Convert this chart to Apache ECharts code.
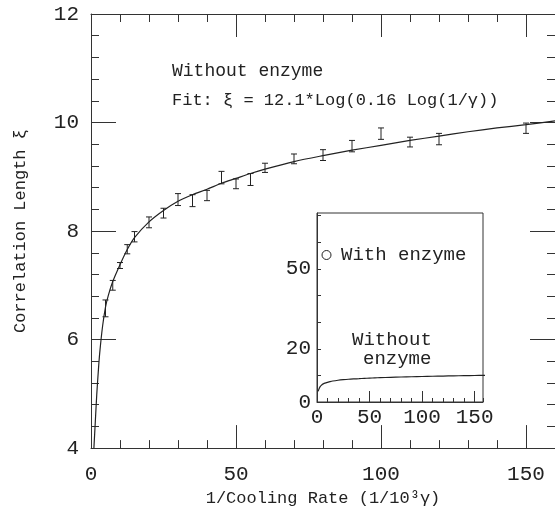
<!DOCTYPE html>
<html><head><meta charset="utf-8">
<script src="https://cdn.jsdelivr.net/npm/echarts@6/dist/echarts.min.js"></script>
<style>html,body{margin:0;padding:0;background:#fff}#c{width:555px;height:512px}</style>
</head><body><div id="c"></div>
<script>
// Error-bar data (Without enzyme)
const errX    = [5, 7.5, 10, 12.5, 15, 20, 25, 30, 35, 40, 45, 50, 55, 60, 70, 80, 90, 100, 110, 120, 150];
const errLow  = [6.42, 6.91, 7.31, 7.58, 7.80, 8.06, 8.24, 8.47, 8.45, 8.56, 8.87, 8.78, 8.84, 9.08, 9.24, 9.30, 9.46, 9.69, 9.55, 9.59, 9.80];
const errHigh = [6.73, 7.09, 7.42, 7.75, 7.99, 8.26, 8.42, 8.69, 8.67, 8.75, 9.10, 8.96, 9.06, 9.25, 9.42, 9.50, 9.67, 9.90, 9.73, 9.80, 9.99];
// Fit curve
const curveX = [1.0, 1.5, 2.0, 2.5, 3.0, 4.0, 5.0, 6.0, 7.5, 10, 12.5, 15, 20, 25, 30, 35, 40, 45, 50, 55, 60, 70, 80, 90, 100, 110, 120, 130, 140, 150, 160];
const curveY = [4.0, 4.5, 5.0, 5.4, 5.75, 6.25, 6.6, 6.82, 7.07, 7.38, 7.66, 7.88, 8.17, 8.38, 8.55, 8.67, 8.77, 8.88, 8.97, 9.06, 9.14, 9.28, 9.39, 9.49, 9.58, 9.67, 9.75, 9.83, 9.90, 9.96, 10.03];
// Tick labels
const insetYLabels = [0, 20, 50];

const FONT = 'Liberation Mono';
const INK = '#222';
const LINE = '#333';

const curveData = curveX.map((x, i) => [x, curveY[i]]);
const errData = errX.map((x, i) => [x, errLow[i], errHigh[i]]);

function xAx(opts) {
  return Object.assign({
    type: 'value', gridIndex: 0, min: 0, max: 160,
    axisLine: {show: true, onZero: false, lineStyle: {color: LINE, width: 1}},
    axisTick: {show: true, inside: true, length: 8, lineStyle: {color: LINE, width: 1}},
    axisLabel: {show: false},
    splitLine: {show: false}
  }, opts);
}
function yAx(opts) {
  return Object.assign({
    type: 'value', gridIndex: 0, min: 4, max: 12, interval: 2,
    axisLine: {show: true, onZero: false, lineStyle: {color: LINE, width: 1}},
    axisTick: {show: true, inside: true, length: 25, lineStyle: {color: LINE, width: 1}},
    minorTick: {show: true, splitNumber: 5, length: 8, lineStyle: {color: LINE, width: 1}},
    axisLabel: {show: false},
    splitLine: {show: false}
  }, opts);
}

const chart = echarts.init(document.getElementById('c'), null, {renderer: 'canvas'});
chart.setOption({
  animation: false,
  backgroundColor: '#fff',
  grid: [
    {left: 91, top: 14, width: 466, height: 436, show: false},
    {left: 317, top: 213, width: 166, height: 189, show: true, backgroundColor: '#fff', borderColor: LINE, borderWidth: 1}
  ],
  xAxis: [
    xAx({position: 'bottom', interval: 50,
      axisTick: {show: true, inside: true, length: 23, lineStyle: {color: LINE, width: 1}},
      axisLabel: {show: true, showMaxLabel: false, margin: 16, fontFamily: FONT, fontSize: 21, color: INK},
      name: '1/Cooling Rate (1/10³γ)', nameLocation: 'middle', nameGap: 40,
      nameTextStyle: {fontFamily: FONT, fontSize: 17, color: INK}}),
    xAx({position: 'bottom', interval: 10, axisLine: {show: false}}),
    xAx({position: 'top', interval: 50,
      axisTick: {show: true, inside: true, length: 23, lineStyle: {color: LINE, width: 1}}}),
    xAx({position: 'top', interval: 10, axisLine: {show: false}}),
    // inset
    {type: 'value', gridIndex: 1, position: 'bottom', min: 0, max: 158, interval: 50,
      axisLine: {show: true, onZero: false, lineStyle: {color: LINE, width: 1}},
      axisTick: {show: true, inside: true, length: 11, lineStyle: {color: LINE, width: 1}},
      axisLabel: {show: true, showMaxLabel: false, margin: 5, fontFamily: FONT, fontSize: 21, color: INK},
      splitLine: {show: false}},
    {type: 'value', gridIndex: 1, position: 'bottom', min: 0, max: 158, interval: 10,
      axisLine: {show: false},
      axisTick: {show: true, inside: true, length: 4, lineStyle: {color: LINE, width: 1}},
      axisLabel: {show: false}, splitLine: {show: false}}
  ],
  yAxis: [
    yAx({position: 'left',
      axisLabel: {show: true, margin: 12, fontFamily: FONT, fontSize: 21, color: INK},
      name: 'Correlation Length ξ', nameLocation: 'middle', nameGap: 62, nameRotate: 90,
      nameTextStyle: {fontFamily: FONT, fontSize: 17, color: INK}}),
    yAx({position: 'right'}),
    {type: 'value', gridIndex: 1, position: 'left', min: 0, max: 71, interval: 10,
      axisLine: {show: true, onZero: false, lineStyle: {color: LINE, width: 1}},
      axisTick: {show: true, inside: true, length: 4, lineStyle: {color: LINE, width: 1}},
      axisLabel: {show: true, showMaxLabel: false, margin: 6, fontFamily: FONT, fontSize: 21, color: INK,
        formatter: v => insetYLabels.indexOf(v) >= 0 ? String(v) : ''},
      splitLine: {show: false}}
  ],
  series: [
    {type: 'line', name: 'Fit', xAxisIndex: 0, yAxisIndex: 0, data: curveData, smooth: 0.3,
      showSymbol: false, symbol: 'none', clip: true, lineStyle: {color: INK, width: 1.2}},
    {type: 'custom', name: 'Without enzyme', xAxisIndex: 0, yAxisIndex: 0, data: errData,
      encode: {x: 0, y: [1, 2]},
      renderItem: function (params, api) {
        const x = api.value(0), lo = api.value(1), hi = api.value(2);
        const p1 = api.coord([x, lo]), p2 = api.coord([x, hi]);
        const w = 3;
        const st = {stroke: INK, lineWidth: 1};
        return {type: 'group', children: [
          {type: 'line', shape: {x1: p1[0], y1: p1[1], x2: p2[0], y2: p2[1]}, style: st},
          {type: 'line', shape: {x1: p1[0] - w, y1: p1[1], x2: p1[0] + w, y2: p1[1]}, style: st},
          {type: 'line', shape: {x1: p2[0] - w, y1: p2[1], x2: p2[0] + w, y2: p2[1]}, style: st}
        ]};
      }},
    {type: 'line', name: 'Inset fit', xAxisIndex: 4, yAxisIndex: 2, data: curveData, smooth: 0.3,
      showSymbol: false, symbol: 'none', clip: true, lineStyle: {color: INK, width: 1.2}}
  ],
  graphic: [
    {type: 'text', left: 172, top: 62, style: {text: 'Without enzyme', fontFamily: FONT, fontSize: 18, fill: INK}},
    {type: 'text', left: 172, top: 92, style: {text: 'Fit: ξ = 12.1*Log(0.16 Log(1/γ))', fontFamily: FONT, fontSize: 17, fill: INK}},
    {type: 'circle', shape: {cx: 326.5, cy: 255, r: 4.5}, style: {fill: 'none', stroke: INK, lineWidth: 1}, z: 100},
    {type: 'text', left: 341, top: 245, z: 100, style: {text: 'With enzyme', fontFamily: FONT, fontSize: 19, fill: INK}},
    {type: 'text', left: 352, top: 330, z: 100, style: {text: 'Without', fontFamily: FONT, fontSize: 19, fill: INK}},
    {type: 'text', left: 363, top: 349, z: 100, style: {text: 'enzyme', fontFamily: FONT, fontSize: 19, fill: INK}}
  ]
});
</script></body></html>
